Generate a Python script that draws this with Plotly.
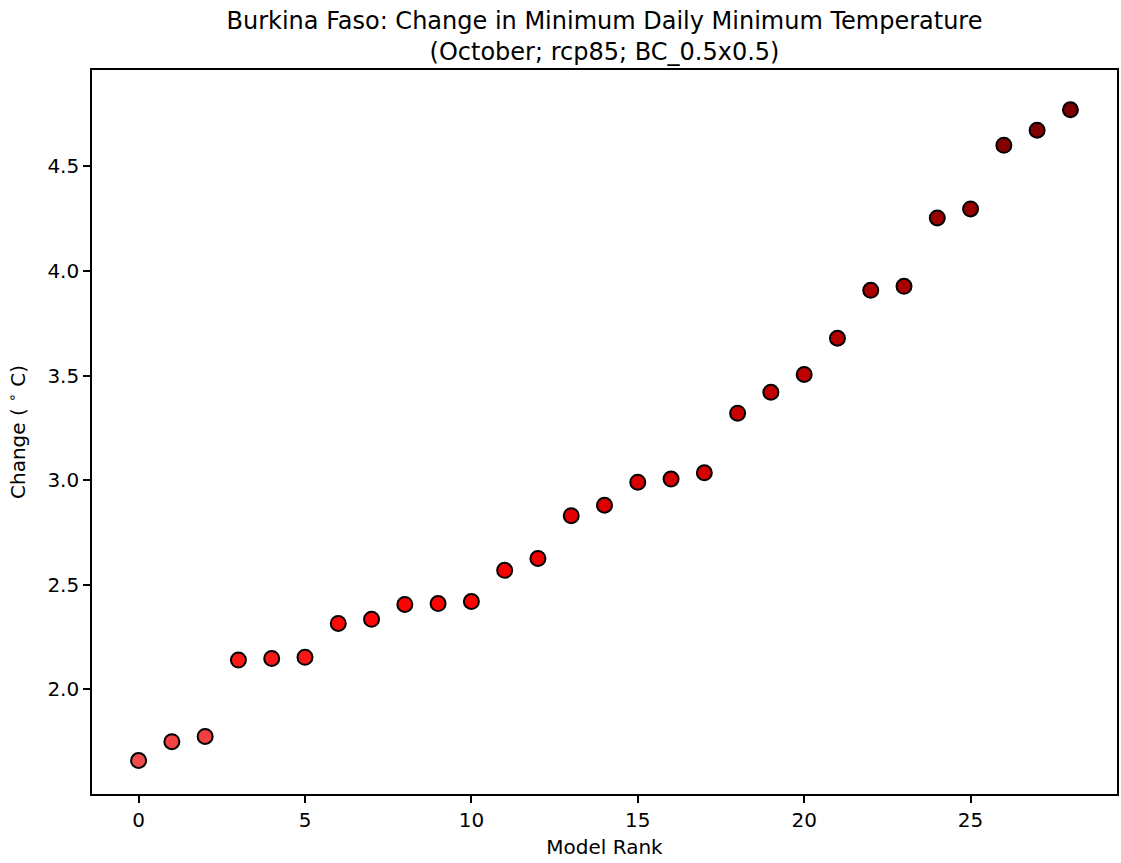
import plotly.graph_objects as go

model_rank = list(range(29))
change_c = [1.66, 1.75, 1.775, 2.14, 2.148, 2.153, 2.315, 2.335, 2.406, 2.41, 2.42,
            2.569, 2.626, 2.83, 2.88, 2.99, 3.005, 3.035, 3.32, 3.42, 3.505, 3.678,
            3.907, 3.926, 4.253, 4.296, 4.60, 4.672, 4.77]
x_ticks = [0, 5, 10, 15, 20, 25]
y_ticks = [2.0, 2.5, 3.0, 3.5, 4.0, 4.5]

title_text = ("Burkina Faso: Change in Minimum Daily Minimum Temperature<br>"
              "(October; rcp85; BC_0.5x0.5)")

colorscale = [[0.0, '#f04c4c'], [0.15, '#f81a1a'], [0.25, '#ff0000'],
              [0.4, '#dc0000'], [0.55, '#c40000'], [0.75, '#a60000'], [1.0, '#7c0000']]

fig = go.Figure(go.Scatter(
    x=model_rank, y=change_c, mode='markers',
    marker=dict(size=15, color=change_c, colorscale=colorscale,
                cmin=min(change_c), cmax=max(change_c),
                line=dict(color='black', width=2)),
    showlegend=False,
))

font = "DejaVu Sans, sans-serif"
fig.update_layout(
    width=1121, height=863,
    margin=dict(l=92, r=2, t=70, b=69),
    paper_bgcolor='white', plot_bgcolor='white',
    font=dict(family=font, size=20, color='black'),
    title=dict(text=title_text, x=0.5, xanchor='center', xref='paper',
               yref='container', y=1 - 29 / 863, yanchor='middle',
               font=dict(family=font, size=24, color='black')),
    xaxis=dict(range=[-1.4, 29.4], tickvals=x_ticks, ticks='outside', ticklen=7,
               tickwidth=1.5, tickcolor='black', showline=True, linecolor='black',
               linewidth=1.6, mirror=True, showgrid=False, zeroline=False,
               tickfont=dict(size=20),
               title=dict(text='Model Rank', standoff=9, font=dict(size=20))),
    yaxis=dict(range=[1.50, 4.96], tickvals=y_ticks, tickformat='.1f', ticks='outside',
               ticklen=7, tickwidth=1.5, tickcolor='black', showline=True,
               linecolor='black', linewidth=1.6, mirror=True, showgrid=False,
               zeroline=False, tickfont=dict(size=20),
               title=dict(text='Change ( <sup>∘</sup> C)', standoff=16,
                          font=dict(size=20))),
)

fig.write_html("out.html", config={'displayModeBar': False},
               post_script="document.body.style.margin='0';")
